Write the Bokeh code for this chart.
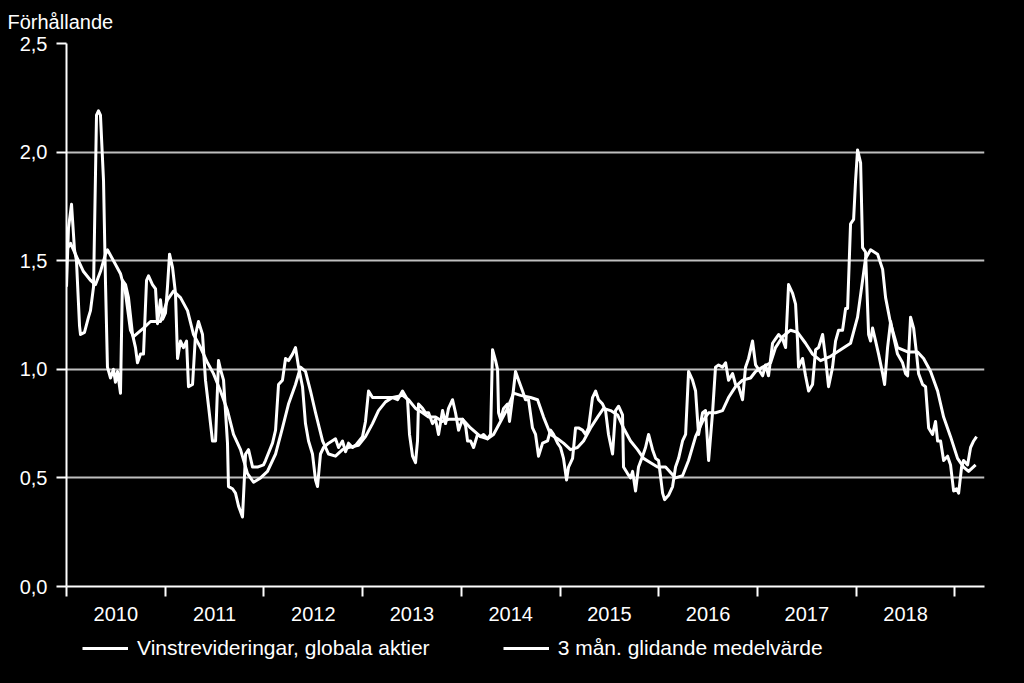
from bokeh.plotting import figure
from bokeh.models import Range1d, FixedTicker, Legend, LegendItem
from bokeh.layouts import column
from bokeh.embed import file_html
from bokeh.resources import INLINE

FONT = "Liberation Sans"

# Year labels on the x axis (centred in each year)
year_labels = ["2010", "2011", "2012", "2013", "2014", "2015", "2016", "2017", "2018"]
year_bounds = [2010, 2011, 2012, 2013, 2014, 2015, 2016, 2017, 2018, 2019]
y_ticks = [0.0, 0.5, 1.0, 1.5, 2.0, 2.5]
y_tick_labels = ["0,0", "0,5", "1,0", "1,5", "2,0", "2,5"]

# Vinstrevideringar, globala aktier (weekly ratio), time in decimal years
raw_t = [
    2010.000, 2010.020, 2010.051, 2010.081, 2010.101, 2010.132, 2010.142, 2010.182, 2010.223, 2010.243,
    2010.274, 2010.304, 2010.324, 2010.344, 2010.375, 2010.395, 2010.415, 2010.446, 2010.476, 2010.496,
    2010.517, 2010.547, 2010.567, 2010.598, 2010.628, 2010.669, 2010.699, 2010.719, 2010.750, 2010.780,
    2010.811, 2010.831, 2010.871, 2010.902, 2010.922, 2010.952, 2010.973, 2011.003, 2011.023, 2011.044,
    2011.074, 2011.104, 2011.125, 2011.155, 2011.185, 2011.216, 2011.236, 2011.277, 2011.307, 2011.337,
    2011.378, 2011.408, 2011.439, 2011.479, 2011.510, 2011.540, 2011.560, 2011.591, 2011.631, 2011.641,
    2011.682, 2011.712, 2011.743, 2011.783, 2011.814, 2011.844, 2011.885, 2011.935, 2011.996, 2012.016,
    2012.087, 2012.118, 2012.148, 2012.188, 2012.219, 2012.249, 2012.290, 2012.320, 2012.351, 2012.391,
    2012.421, 2012.452, 2012.492, 2012.523, 2012.543, 2012.573, 2012.604, 2012.655, 2012.725, 2012.756,
    2012.796, 2012.827, 2012.857, 2012.898, 2012.928, 2012.999, 2013.029, 2013.060, 2013.100, 2013.161,
    2013.232, 2013.303, 2013.354, 2013.404, 2013.455, 2013.475, 2013.506, 2013.536, 2013.556, 2013.566,
    2013.607, 2013.637, 2013.668, 2013.708, 2013.739, 2013.769, 2013.810, 2013.840, 2013.870, 2013.911,
    2013.941, 2013.972, 2014.012, 2014.043, 2014.063, 2014.093, 2014.124, 2014.164, 2014.195, 2014.225,
    2014.265, 2014.296, 2014.316, 2014.347, 2014.367, 2014.377, 2014.397, 2014.428, 2014.468, 2014.488,
    2014.519, 2014.549, 2014.580, 2014.620, 2014.650, 2014.681, 2014.721, 2014.752, 2014.782, 2014.823,
    2014.873, 2014.904, 2014.934, 2014.975, 2015.005, 2015.035, 2015.066, 2015.086, 2015.127, 2015.157,
    2015.187, 2015.228, 2015.258, 2015.289, 2015.329, 2015.360, 2015.390, 2015.431, 2015.461, 2015.491,
    2015.532, 2015.562, 2015.593, 2015.633, 2015.643, 2015.684, 2015.714, 2015.735, 2015.765, 2015.795,
    2015.836, 2015.866, 2015.897, 2015.937, 2015.968, 2015.998, 2016.039, 2016.059, 2016.099, 2016.140,
    2016.170, 2016.201, 2016.241, 2016.272, 2016.302, 2016.342, 2016.373, 2016.403, 2016.444, 2016.474,
    2016.505, 2016.545, 2016.575, 2016.606, 2016.646, 2016.677, 2016.707, 2016.748, 2016.778, 2016.809,
    2016.849, 2016.879, 2016.910, 2016.950, 2016.981, 2017.011, 2017.052, 2017.082, 2017.112, 2017.153,
    2017.183, 2017.214, 2017.254, 2017.285, 2017.315, 2017.356, 2017.386, 2017.406, 2017.416, 2017.457,
    2017.487, 2017.518, 2017.558, 2017.589, 2017.619, 2017.660, 2017.690, 2017.720, 2017.761, 2017.791,
    2017.822, 2017.862, 2017.893, 2017.913, 2017.943, 2017.974, 2017.994, 2018.014, 2018.045, 2018.065,
    2018.095, 2018.126, 2018.146, 2018.166, 2018.197, 2018.227, 2018.268, 2018.288, 2018.318, 2018.349,
    2018.379, 2018.419, 2018.470, 2018.500, 2018.521, 2018.551, 2018.582, 2018.612, 2018.632, 2018.673,
    2018.703, 2018.734, 2018.774, 2018.804, 2018.825, 2018.855, 2018.886, 2018.926, 2018.956, 2018.987,
    2019.017, 2019.038, 2019.068, 2019.088, 2019.129, 2019.159, 2019.190, 2019.220,
]
raw_ratio = [
    1.38, 1.65, 1.76, 1.55, 1.50, 1.20, 1.16, 1.17, 1.24, 1.27,
    1.38, 2.17, 2.19, 2.17, 1.87, 1.40, 1.01, 0.96, 1.00, 0.94,
    0.99, 0.89, 1.41, 1.39, 1.33, 1.16, 1.10, 1.03, 1.07, 1.07,
    1.41, 1.43, 1.39, 1.37, 1.21, 1.32, 1.23, 1.26, 1.38, 1.53,
    1.47, 1.35, 1.05, 1.13, 1.10, 1.13, 0.92, 0.93, 1.16, 1.22,
    1.16, 0.95, 0.83, 0.67, 0.67, 1.04, 1.00, 0.95, 0.66, 0.46,
    0.45, 0.43, 0.37, 0.32, 0.61, 0.63, 0.55, 0.55, 0.56, 0.58,
    0.66, 0.72, 0.93, 0.95, 1.05, 1.04, 1.07, 1.10, 1.01, 0.92,
    0.75, 0.67, 0.61, 0.49, 0.46, 0.61, 0.64, 0.66, 0.68, 0.64,
    0.67, 0.62, 0.66, 0.64, 0.65, 0.69, 0.76, 0.90, 0.87, 0.87,
    0.87, 0.87, 0.86, 0.90, 0.86, 0.70, 0.60, 0.57, 0.67, 0.84,
    0.82, 0.80, 0.80, 0.75, 0.77, 0.70, 0.81, 0.75, 0.82, 0.86,
    0.80, 0.72, 0.77, 0.74, 0.67, 0.67, 0.64, 0.70, 0.69, 0.70,
    0.68, 0.70, 1.09, 1.04, 1.00, 0.80, 0.77, 0.82, 0.84, 0.76,
    0.87, 0.99, 0.95, 0.90, 0.86, 0.86, 0.73, 0.70, 0.60, 0.66,
    0.67, 0.72, 0.70, 0.66, 0.64, 0.59, 0.49, 0.55, 0.59, 0.73,
    0.73, 0.72, 0.70, 0.73, 0.87, 0.90, 0.86, 0.84, 0.81, 0.70,
    0.61, 0.81, 0.83, 0.79, 0.55, 0.52, 0.50, 0.53, 0.44, 0.55,
    0.60, 0.64, 0.70, 0.63, 0.59, 0.58, 0.43, 0.40, 0.42, 0.46,
    0.55, 0.59, 0.67, 0.70, 0.99, 0.95, 0.90, 0.70, 0.80, 0.81,
    0.58, 0.80, 1.01, 1.02, 1.01, 1.03, 0.95, 0.98, 0.93, 0.92,
    0.86, 1.01, 1.05, 1.13, 1.02, 1.00, 0.97, 1.02, 0.97, 1.12,
    1.14, 1.16, 1.14, 1.10, 1.39, 1.35, 1.30, 1.13, 1.01, 1.05,
    0.97, 0.90, 0.93, 1.09, 1.10, 1.16, 1.05, 0.92, 1.01, 1.13,
    1.18, 1.18, 1.28, 1.28, 1.67, 1.69, 1.87, 2.01, 1.95, 1.56,
    1.54, 1.16, 1.13, 1.19, 1.13, 1.07, 0.98, 0.93, 1.10, 1.22,
    1.15, 1.07, 1.03, 0.98, 0.97, 1.24, 1.19, 1.07, 0.98, 0.93,
    0.92, 0.73, 0.70, 0.76, 0.67, 0.67, 0.58, 0.60, 0.56, 0.44,
    0.45, 0.43, 0.55, 0.58, 0.56, 0.64, 0.67, 0.69,
]

# 3 mån. glidande medelvärde
ma_t = [
    2010.000, 2010.041, 2010.081, 2010.111, 2010.172, 2010.243, 2010.294, 2010.344, 2010.395, 2010.415,
    2010.476, 2010.547, 2010.598, 2010.648, 2010.679, 2010.780, 2010.851, 2010.952, 2011.023, 2011.084,
    2011.155, 2011.226, 2011.287, 2011.358, 2011.429, 2011.489, 2011.560, 2011.631, 2011.692, 2011.763,
    2011.834, 2011.895, 2011.966, 2012.036, 2012.118, 2012.188, 2012.249, 2012.320, 2012.371, 2012.421,
    2012.472, 2012.523, 2012.594, 2012.655, 2012.725, 2012.796, 2012.857, 2012.958, 2013.029, 2013.100,
    2013.161, 2013.232, 2013.303, 2013.404, 2013.465, 2013.536, 2013.607, 2013.668, 2013.739, 2013.810,
    2013.870, 2013.941, 2014.012, 2014.093, 2014.195, 2014.265, 2014.326, 2014.397, 2014.468, 2014.529,
    2014.600, 2014.701, 2014.772, 2014.833, 2014.904, 2014.975, 2015.035, 2015.106, 2015.177, 2015.238,
    2015.309, 2015.380, 2015.441, 2015.512, 2015.583, 2015.643, 2015.714, 2015.785, 2015.846, 2015.917,
    2015.988, 2016.069, 2016.170, 2016.241, 2016.302, 2016.373, 2016.444, 2016.505, 2016.575, 2016.646,
    2016.707, 2016.778, 2016.849, 2016.930, 2016.981, 2017.052, 2017.133, 2017.183, 2017.254, 2017.335,
    2017.406, 2017.487, 2017.558, 2017.639, 2017.741, 2017.842, 2017.943, 2018.014, 2018.065, 2018.095,
    2018.146, 2018.217, 2018.268, 2018.298, 2018.349, 2018.419, 2018.521, 2018.622, 2018.683, 2018.754,
    2018.825, 2018.886, 2018.956, 2019.027, 2019.088, 2019.139, 2019.210,
]
ma_ratio = [
    1.55, 1.58, 1.54, 1.51, 1.45, 1.41, 1.39, 1.45, 1.53, 1.55,
    1.50, 1.44, 1.35, 1.18, 1.15, 1.19, 1.22, 1.22, 1.32, 1.36,
    1.33, 1.27, 1.16, 1.10, 1.03, 0.98, 0.90, 0.81, 0.70, 0.63,
    0.52, 0.48, 0.50, 0.53, 0.61, 0.73, 0.84, 0.93, 1.01, 0.99,
    0.90, 0.80, 0.67, 0.61, 0.60, 0.63, 0.64, 0.65, 0.69, 0.75,
    0.81, 0.85, 0.87, 0.88, 0.86, 0.82, 0.80, 0.78, 0.78, 0.76,
    0.77, 0.77, 0.77, 0.73, 0.69, 0.68, 0.70, 0.76, 0.82, 0.89,
    0.88, 0.87, 0.86, 0.78, 0.70, 0.68, 0.66, 0.63, 0.64, 0.67,
    0.73, 0.78, 0.82, 0.81, 0.79, 0.73, 0.67, 0.63, 0.59, 0.57,
    0.55, 0.55, 0.50, 0.51, 0.58, 0.69, 0.76, 0.80, 0.80, 0.81,
    0.87, 0.92, 0.95, 0.96, 0.99, 1.01, 1.03, 1.10, 1.15, 1.18,
    1.17, 1.12, 1.07, 1.04, 1.06, 1.09, 1.12, 1.24, 1.41, 1.51,
    1.55, 1.53, 1.46, 1.33, 1.21, 1.10, 1.08, 1.08, 1.05, 0.99,
    0.90, 0.78, 0.69, 0.59, 0.55, 0.53, 0.56,
]

series_names = ["Vinstrevideringar, globala aktier", "3 mån. glidande medelvärde"]
y_title = "Förhållande"

p = figure(width=1024, height=630, output_backend="svg", toolbar_location=None,
           x_range=Range1d(2010.0, 2019.30), y_range=Range1d(0, 2.5),
           min_border_left=66, min_border_right=40, min_border_top=43, min_border_bottom=44)
p.background_fill_color = "black"
p.border_fill_color = "black"
p.outline_line_color = None

p.title.text = y_title
p.title.align = "left"
p.title.vertical_align = "top"
p.title.offset = -59
p.title.standoff = 18
p.title.text_color = "white"
p.title.text_font = FONT
p.title.text_font_size = "20px"
p.title.text_font_style = "normal"

p.xgrid.visible = False
p.ygrid.grid_line_color = "#bfbfbf"
p.ygrid.grid_line_width = 2
p.ygrid.ticker = FixedTicker(ticks=y_ticks)

# y axis
p.yaxis.ticker = FixedTicker(ticks=y_ticks)
p.yaxis.major_label_overrides = {t: l for t, l in zip(y_ticks, y_tick_labels)}
p.yaxis.axis_line_color = "white"
p.yaxis.axis_line_width = 2
p.yaxis.major_tick_line_color = "white"
p.yaxis.major_tick_line_width = 2
p.yaxis.major_tick_out = 10
p.yaxis.major_tick_in = 0
p.yaxis.minor_tick_line_color = None
p.yaxis.major_label_text_color = "white"
p.yaxis.major_label_text_font = FONT
p.yaxis.major_label_text_font_size = "20px"
p.yaxis.major_label_standoff = 9

# x axis: labels centred in each year, ticks at year boundaries
mid_years = [b + 0.5 for b in year_bounds[:-1]]
p.xaxis.ticker = FixedTicker(ticks=mid_years, minor_ticks=year_bounds)
p.xaxis.major_label_overrides = {t: l for t, l in zip(mid_years, year_labels)}
p.xaxis.axis_line_color = "white"
p.xaxis.axis_line_width = 2
p.xaxis.major_tick_line_color = None
p.xaxis.major_tick_out = 0
p.xaxis.major_tick_in = 0
p.xaxis.minor_tick_line_color = "white"
p.xaxis.minor_tick_line_width = 2
p.xaxis.minor_tick_out = 10
p.xaxis.minor_tick_in = 0
p.xaxis.major_label_text_color = "white"
p.xaxis.major_label_text_font = FONT
p.xaxis.major_label_text_font_size = "20px"
p.xaxis.major_label_standoff = 10

p.line(raw_t, raw_ratio, line_color="white", line_width=3, line_join="round")
p.line(ma_t, ma_ratio, line_color="white", line_width=3, line_join="round")

# Legend strip below the chart (legend proxies carry no visible points)
leg = figure(width=1024, height=53, output_backend="svg", toolbar_location=None,
             x_range=Range1d(0, 1), y_range=Range1d(0, 1),
             x_axis_location=None, y_axis_location=None,
             min_border_left=0, min_border_right=0, min_border_top=0, min_border_bottom=0)
leg.background_fill_color = "black"
leg.border_fill_color = "black"
leg.outline_line_color = None
leg.grid.visible = False
nan = float("nan")
k1 = leg.line(x=[nan, nan], y=[nan, nan], line_color="white", line_width=3)
k2 = leg.line(x=[nan, nan], y=[nan, nan], line_color="white", line_width=3)

legend = Legend(items=[LegendItem(label=series_names[0], renderers=[k1]),
                       LegendItem(label=series_names[1], renderers=[k2])],
                orientation="horizontal", location=(16, 23), padding=0, margin=0,
                spacing=73, glyph_width=46, glyph_height=20, label_standoff=9,
                label_text_color="white", label_text_font=FONT, label_text_font_size="21px",
                background_fill_alpha=0, border_line_color=None)
leg.add_layout(legend)

layout = column(p, leg, spacing=0)
layout.background = "black"

open("out.html", "w").write(file_html(layout, INLINE))
